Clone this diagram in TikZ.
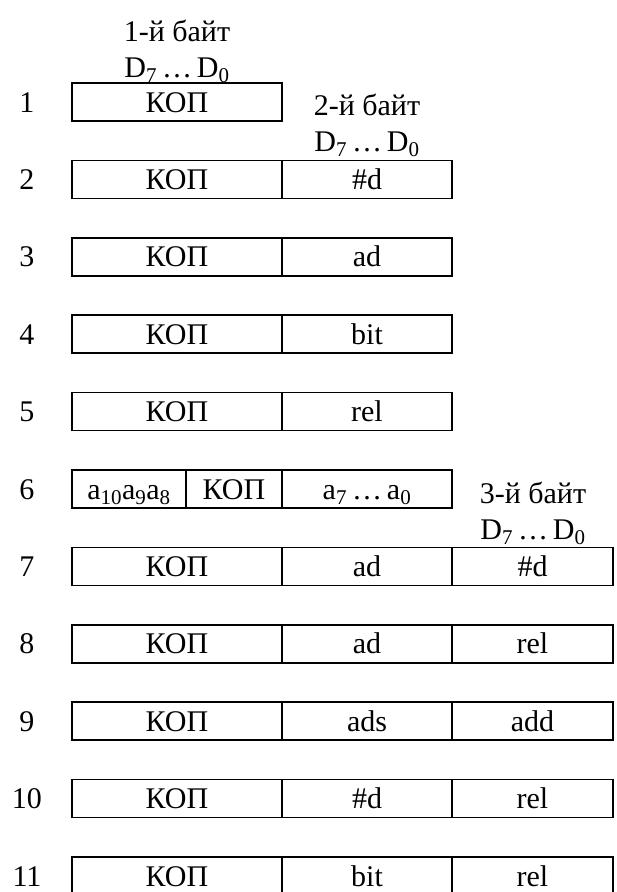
\documentclass[tikz,border=0pt]{standalone}
\usepackage{fontspec}
\setmainfont{Liberation Serif}
\newcommand{\Dr}{D\textsubscript{7}\,…\,D\textsubscript{0}}
\begin{document}
\begin{tikzpicture}[x=1pt,y=-1pt,
  every node/.append style={font=\fontsize{30}{36}\selectfont},
  cell/.style={draw,line width=1.6pt,anchor=north west,inner sep=0pt,outer sep=0pt,minimum height=38pt,text height=20pt,text depth=0pt},
  wA/.style={cell,minimum width=210pt},
  wB/.style={cell,minimum width=170pt},
  wC/.style={cell,minimum width=161pt},
  hdr/.style={inner sep=0pt,anchor=base},
  lbl/.style={inner sep=0pt,text height=20pt,text depth=0pt}]
\useasboundingbox (0,0) rectangle (617,892);
% headers
\node[hdr] (h1a) at (177,41) {1-й байт};
\node[hdr] (h1b) at (177,77) {\Dr};
\node[hdr] (h2a) at (367,115) {2-й байт};
\node[hdr] (h2b) at (367,151) {\Dr};
\node[hdr] (h3a) at (533,503) {3-й байт};
\node[hdr] (h3b) at (533,539) {\Dr};
% row labels
\foreach \k in {1,...,11}{
  \node[lbl] (n\k) at (27,{83+(\k-1)*77.4+19}) {\k};
}
% row 1
\node[wA] (r1a) at (72,83) {КОП};
% row 2
\node[wA] (r2a) at (72,160.4) {КОП};
\node[wB] (r2b) at (282,160.4) {\#d};
% row 3
\node[wA] (r3a) at (72,237.8) {КОП};
\node[wB] (r3b) at (282,237.8) {ad};
% row 4
\node[wA] (r4a) at (72,315.2) {КОП};
\node[wB] (r4b) at (282,315.2) {bit};
% row 5
\node[wA] (r5a) at (72,392.6) {КОП};
\node[wB] (r5b) at (282,392.6) {rel};
% row 6
\node[cell,minimum width=114pt] (r6a) at (72,470) {a\textsubscript{10}a\textsubscript{9}a\textsubscript{8}};
\node[cell,minimum width=96pt] (r6b) at (186,470) {КОП};
\node[wB] (r6c) at (282,470) {a\textsubscript{7}\,…\,a\textsubscript{0}};
% row 7
\node[wA] (r7a) at (72,547.4) {КОП};
\node[wB] (r7b) at (282,547.4) {ad};
\node[wC] (r7c) at (452,547.4) {\#d};
% row 8
\node[wA] (r8a) at (72,624.8) {КОП};
\node[wB] (r8b) at (282,624.8) {ad};
\node[wC] (r8c) at (452,624.8) {rel};
% row 9
\node[wA] (r9a) at (72,702.2) {КОП};
\node[wB] (r9b) at (282,702.2) {ads};
\node[wC] (r9c) at (452,702.2) {add};
% row 10
\node[wA] (r10a) at (72,779.6) {КОП};
\node[wB] (r10b) at (282,779.6) {\#d};
\node[wC] (r10c) at (452,779.6) {rel};
% row 11
\node[wA] (r11a) at (72,857) {КОП};
\node[wB] (r11b) at (282,857) {bit};
\node[wC] (r11c) at (452,857) {rel};
\end{tikzpicture}
\end{document}
